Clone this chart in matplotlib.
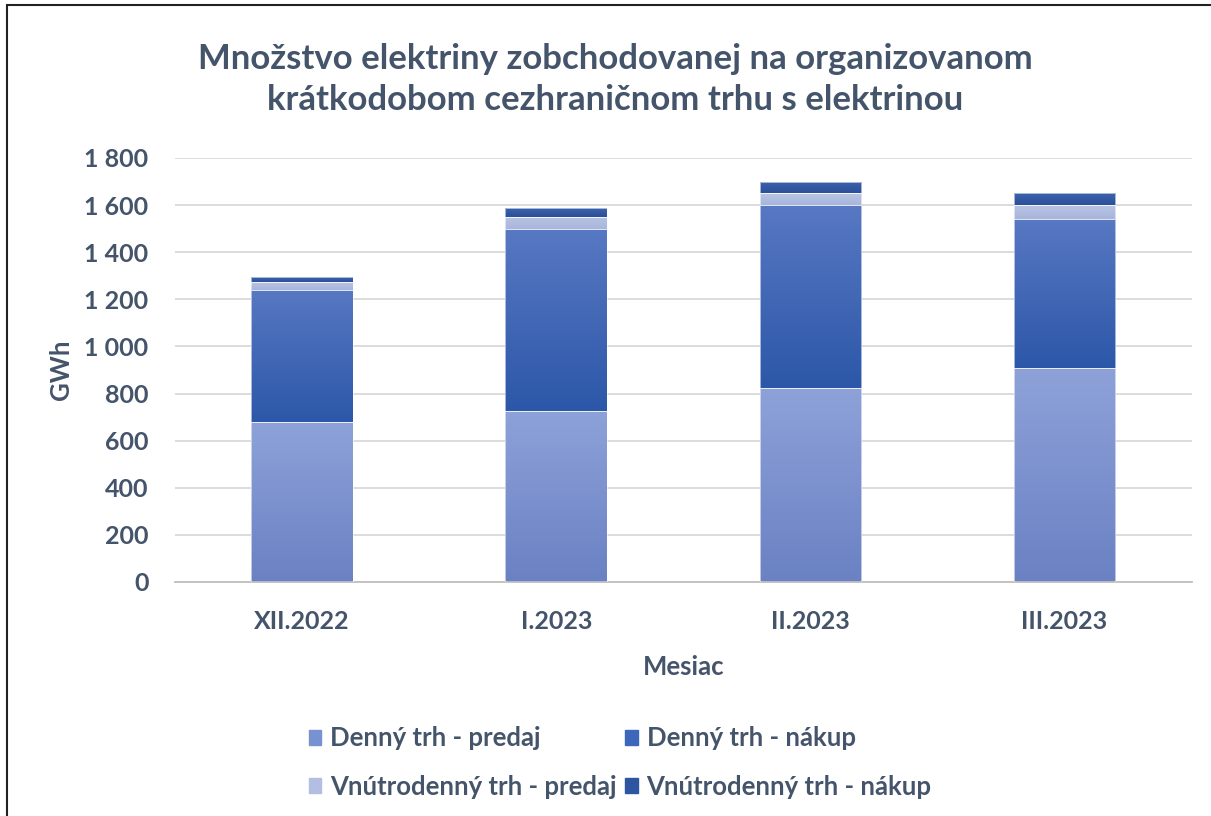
import numpy as np
import matplotlib
matplotlib.use("Agg")
import matplotlib.pyplot as plt
from matplotlib.colors import LinearSegmentedColormap
from matplotlib.patches import Rectangle

months = ["XII.2022", "I.2023", "II.2023", "III.2023"]
denny_predaj = [678, 726, 825, 907]
denny_nakup = [563, 772, 775, 634]
vnutro_predaj = [34, 53, 50, 61]
vnutro_nakup = [18, 35, 47, 49]

labels = ["Denný trh - predaj", "Denný trh - nákup",
          "Vnútrodenný trh - predaj", "Vnútrodenný trh - nákup"]
# (bottom colour, top colour) of each segment's gradient
grads = [("#6a81c3", "#8ea2d9"), ("#2c57a8", "#5878c3"),
         ("#a8b5dc", "#bac5e4"), ("#2b4f98", "#3d63ae")]
legend_cols = ["#7891d0", "#3c67bb", "#b3bfe2", "#2e559f"]

plt.rcParams['font.family'] = ['Lato', 'DejaVu Sans']
text_col = "#44546a"

fig = plt.figure(figsize=(12.11, 8.16), dpi=100)
ax = fig.add_axes([0.1445, 0.2868, 0.8395, 0.5196])

x = np.arange(len(months))
series = [denny_predaj, denny_nakup, vnutro_predaj, vnutro_nakup]
grad_img = np.linspace(0, 1, 256).reshape(-1, 1)
bottom = np.zeros(len(months))
handles = []
for vals, (c0, c1), lc, lab in zip(series, grads, legend_cols, labels):
    bars = ax.bar(x, vals, 0.4, bottom=bottom, color="none", zorder=3,
                  edgecolor="#ffffff", linewidth=0.4)
    cmap = LinearSegmentedColormap.from_list("g", [c0, c1])
    for b in bars:
        x0, y0 = b.get_x(), b.get_y()
        im = ax.imshow(grad_img, cmap=cmap, aspect="auto", origin="lower",
                       extent=(x0, x0 + b.get_width(), y0, y0 + b.get_height()),
                       zorder=2.5, interpolation="bilinear")
        im.set_clip_path(b)
    handles.append(Rectangle((0, 0), 1, 1, color=lc))
    bottom += np.array(vals)

ax.set_xlim(-0.5, len(months) - 0.5)
ax.set_ylim(0, 1800)
ax.set_yticks(range(0, 1801, 200))
ax.set_yticklabels([f"{v:,}".replace(",", " ") for v in range(0, 1801, 200)])
ax.set_xticks(x)
ax.set_xticklabels(months)
ax.grid(axis="y", color="#d9d9d9", linewidth=1.3, zorder=0)
for s in ["top", "right", "left"]:
    ax.spines[s].set_visible(False)
ax.spines["bottom"].set_color("#bfbfbf")
ax.spines["bottom"].set_linewidth(1.3)
ax.tick_params(axis="both", length=0, labelsize=18, labelcolor=text_col)
ax.tick_params(axis="y", pad=19)
ax.tick_params(axis="x", pad=20)
for t in ax.get_xticklabels() + ax.get_yticklabels():
    t.set_fontweight("bold")

ax.set_xlabel("Mesiac", fontsize=18.5, fontweight="bold", color=text_col, labelpad=16)
ax.set_ylabel("GWh", fontsize=18.5, fontweight="bold", color=text_col, labelpad=8)

fig.text(0.508, 0.9026, "Množstvo elektriny zobchodovanej na organizovanom\nkrátkodobom cezhraničnom trhu s elektrinou",
         ha="center", va="center", fontsize=25, fontweight="bold", color=text_col,
         linespacing=1.38)

# legend reads row-wise: predaj / nakup
order = [0, 2, 1, 3]
leg = fig.legend([handles[i] for i in order], [labels[i] for i in order],
                 ncol=2, loc="center", bbox_to_anchor=(0.512, 0.0655),
                 frameon=False, fontsize=18.5, handlelength=0.5, handleheight=0.5,
                 handletextpad=0.35, columnspacing=0.3, labelspacing=0.95)
for t in leg.get_texts():
    t.set_color(text_col)
    t.set_fontweight("bold")

fig.patches.append(Rectangle((0.006, -0.01), 1.2, 1.004, transform=fig.transFigure,
                             fill=False, edgecolor="#222222", linewidth=1.5))

fig.savefig("out.png", dpi=100)
